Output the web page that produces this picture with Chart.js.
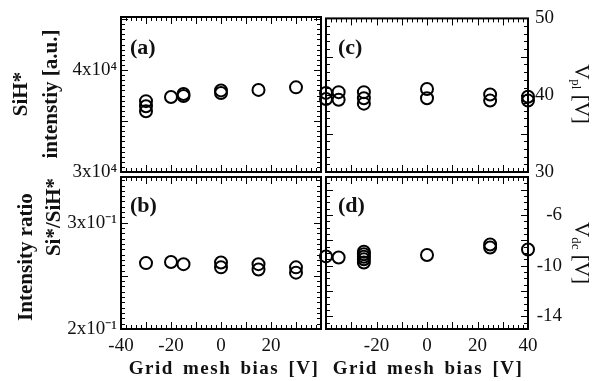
<!DOCTYPE html>
<html>
<head>
<meta charset="utf-8">
<script src="https://cdn.jsdelivr.net/npm/chart.js@4.4.0/dist/chart.umd.min.js"></script>
<style>
  html, body { margin: 0; padding: 0; background: #fff; }
  #fig { position: relative; width: 593px; height: 381px; overflow: hidden;
         font-family: "Liberation Serif", "Times New Roman", serif; color: #111; }
  #fig canvas { position: absolute; left: 0; top: 0; }
  .lab { position: absolute; white-space: nowrap; line-height: 1; }
  .rl { transform: translate(-50%, -50%) rotate(-90deg); }
  .rr { transform: translate(-50%, -50%) rotate(90deg); }
  .c { transform: translate(-50%, -50%); }
  .b { font-weight: bold; }
  sub { font-size: 13px; vertical-align: -3px; }
</style>
</head>
<body>
<div id="fig">
  <canvas id="pa" width="593" height="381"></canvas>
  <canvas id="pb" width="593" height="381"></canvas>
  <canvas id="pc" width="593" height="381"></canvas>
  <canvas id="pd" width="593" height="381"></canvas>

  <div class="lab b rl" style="left:35px;top:94px;font-size:21px;line-height:30px;text-align:center">SiH*<br>intenstiy [a.u.]</div>
  <div class="lab b rl" style="left:25px;top:257px;font-size:21px">Intensity ratio</div>
  <div class="lab b rl" style="left:53px;top:217px;font-size:21px">Si*/SiH*</div>
  <div class="lab rr" style="left:581px;top:94px;font-size:21px">V<sub>pl</sub> [V]</div>
  <div class="lab rr" style="left:581px;top:253px;font-size:21px">V<sub>dc</sub> [V]</div>
  <div class="lab b c" style="left:224px;top:367px;font-size:19px;letter-spacing:1.5px;word-spacing:3px">Grid mesh bias [V]</div>
  <div class="lab b c" style="left:428px;top:367px;font-size:19px;letter-spacing:1.5px;word-spacing:3px">Grid mesh bias [V]</div>
  <div class="lab b" style="left:130px;top:36px;font-size:22px">(a)</div>
  <div class="lab b" style="left:130px;top:194px;font-size:22px">(b)</div>
  <div class="lab b" style="left:338px;top:36px;font-size:22px">(c)</div>
  <div class="lab b" style="left:338px;top:194px;font-size:22px">(d)</div>
</div>

<script>
// (a) SiH* emission intensity
const biasA = [-30, -30, -30, -20, -15, -15, 0, 0, 15, 30];
const sihA = [35950, 36450, 36950, 37350, 37450, 37650, 37750, 38000, 38050, 38300];

// (b) Si*/SiH* intensity ratio
const biasB = [-30, -20, -15, 0, 0, 15, 15, 30, 30];
const ratioB = [0.262, 0.263, 0.261, 0.2625, 0.258, 0.261, 0.256, 0.258, 0.253];

// (c) plasma potential Vpl
const biasC = [-40, -40, -35, -35, -25, -25, -25, 0, 0, 25, 25, 40, 40];
const vplC = [40.3, 39.5, 40.4, 39.4, 40.4, 39.6, 38.9, 40.8, 39.6, 40.1, 39.3, 39.8, 39.3];

// (d) self bias Vdc
const biasD = [-40, -35, -25, -25, -25, -25, -25, 0, 25, 25, 40];
const vdcD = [-9.27, -9.35, -8.9, -9.1, -9.3, -9.5, -9.75, -9.16, -8.33, -8.56, -8.72];

// tick labels
const biasTicks = [-40, -20, 0, 20, 40];
const biasLabelsLeft = ['-40', '-20', '0', '20', ''];
const biasLabelsRight = ['', '-20', '0', '20', '40'];
const sihTicks = [30000, 40000];
const sihLabels = ['3x10⁴', '4x10⁴'];
const ratioTicks = [0.2, 0.3];
const ratioLabels = ['2x10⁻¹', '3x10⁻¹'];
const vplTicks = [30, 40, 50];
const vplLabels = ['30', '40', '50'];
const vdcTicks = [-14, -10, -6];
const vdcLabels = ['-14', '-10', '-6'];

const W = 593, H = 381;
const XH = 30; // room kept for x tick labels
const serif = '"Liberation Serif", "Times New Roman", serif';

// frame with inward major/minor ticks on all 4 sides
const frameTicks = {
  id: 'frameTicks',
  beforeDatasetsDraw(chart, args, o) {
    const ctx = chart.ctx, a = chart.chartArea;
    const sx = chart.scales.x, sy = chart.scales.y;
    const isMajor = (v, step) => Math.abs(v / step - Math.round(v / step)) < 1e-6;
    ctx.save();
    ctx.strokeStyle = '#000';
    ctx.lineWidth = 1;
    ctx.beginPath();
    let n = Math.floor((sx.max - sx.min) / o.xMinor + 1e-6);
    for (let i = 0; i <= n; i++) {
      const v = sx.min + i * o.xMinor;
      const len = isMajor(v, o.xMajor) ? 7 : 4;
      const px = Math.round(sx.getPixelForValue(v)) + 0.5;
      ctx.moveTo(px, a.top); ctx.lineTo(px, a.top + len);
      ctx.moveTo(px, a.bottom); ctx.lineTo(px, a.bottom - len);
    }
    n = Math.floor((sy.max - sy.min) / o.yMinor + 1e-6);
    for (let i = 0; i <= n; i++) {
      const v = sy.min + i * o.yMinor;
      const len = isMajor(v, o.yMajor) ? 7 : 4;
      const py = Math.round(sy.getPixelForValue(v)) + 0.5;
      ctx.moveTo(a.left, py); ctx.lineTo(a.left + len, py);
      ctx.moveTo(a.right, py); ctx.lineTo(a.right - len, py);
    }
    ctx.stroke();
    ctx.lineWidth = 2;
    ctx.strokeRect(a.left, a.top, a.right - a.left, a.bottom - a.top);
    ctx.restore();
  }
};

function makePanel(id, xs, ys, box, yax, xLabels, tk) {
  const right = box.side === 'right';
  const xh = xLabels ? XH : 0;
  const yw = right ? (yax.edge || W) - box.r : box.l;
  new Chart(document.getElementById(id), {
    type: 'scatter',
    data: {
      datasets: [{
        data: xs.map((x, i) => ({ x: x, y: ys[i] })),
        pointStyle: 'circle',
        pointRadius: 6,
        pointBorderWidth: 2,
        pointBorderColor: '#000',
        pointBackgroundColor: 'rgba(0,0,0,0)',
        clip: false
      }]
    },
    options: {
      responsive: false,
      animation: false,
      devicePixelRatio: 1,
      layout: {
        padding: {
          left: right ? box.l : 0,
          right: right ? W - box.r - yw : W - box.r,
          top: box.t,
          bottom: H - box.b - xh
        }
      },
      plugins: { legend: { display: false }, tooltip: { enabled: false }, frameTicks: tk },
      scales: {
        x: {
          type: 'linear', min: -40, max: 40,
          grid: { display: false, drawTicks: false },
          border: { display: false },
          afterFit: s => { s.height = xh; },
          afterBuildTicks: s => { s.ticks = biasTicks.map(v => ({ value: v })); },
          ticks: {
            display: !!xLabels, autoSkip: false, maxRotation: 0, minRotation: 0, padding: 6,
            color: '#111', font: { family: serif, size: 19 },
            callback: v => xLabels ? xLabels[biasTicks.indexOf(v)] : ''
          }
        },
        y: {
          type: 'linear', position: right ? 'right' : 'left', min: yax.min, max: yax.max,
          grid: { display: false, drawTicks: false },
          border: { display: false },
          afterFit: s => { s.width = yw; },
          afterBuildTicks: s => { s.ticks = yax.ticks.map(v => ({ value: v })); },
          ticks: {
            padding: right ? 7 : 4, crossAlign: yax.align || 'near',
            color: '#111', font: { family: serif, size: 19 },
            callback: v => yax.labels[yax.ticks.indexOf(v)]
          }
        }
      }
    },
    plugins: [frameTicks]
  });
}

makePanel('pa', biasA, sihA, { l: 121, r: 321, t: 17, b: 172 },
  { min: 30000, max: 45200, ticks: sihTicks, labels: sihLabels }, null,
  { xMinor: 2, xMajor: 10, yMinor: 500, yMajor: 5000 });
makePanel('pb', biasB, ratioB, { l: 121, r: 321, t: 177, b: 329 },
  { min: 0.2, max: 0.343, ticks: ratioTicks, labels: ratioLabels }, biasLabelsLeft,
  { xMinor: 2, xMajor: 10, yMinor: 0.005, yMajor: 0.05 });
makePanel('pc', biasC, vplC, { l: 326, r: 528, t: 17, b: 172, side: 'right' },
  { min: 30, max: 50, ticks: vplTicks, labels: vplLabels }, null,
  { xMinor: 2, xMajor: 10, yMinor: 1, yMajor: 5 });
makePanel('pd', biasD, vdcD, { l: 326, r: 528, t: 177, b: 329, side: 'right' },
  { min: -15, max: -3, ticks: vdcTicks, labels: vdcLabels, align: 'far', edge: 562 }, biasLabelsRight,
  { xMinor: 2, xMajor: 10, yMinor: 0.5, yMajor: 2 });
</script>
</body>
</html>
